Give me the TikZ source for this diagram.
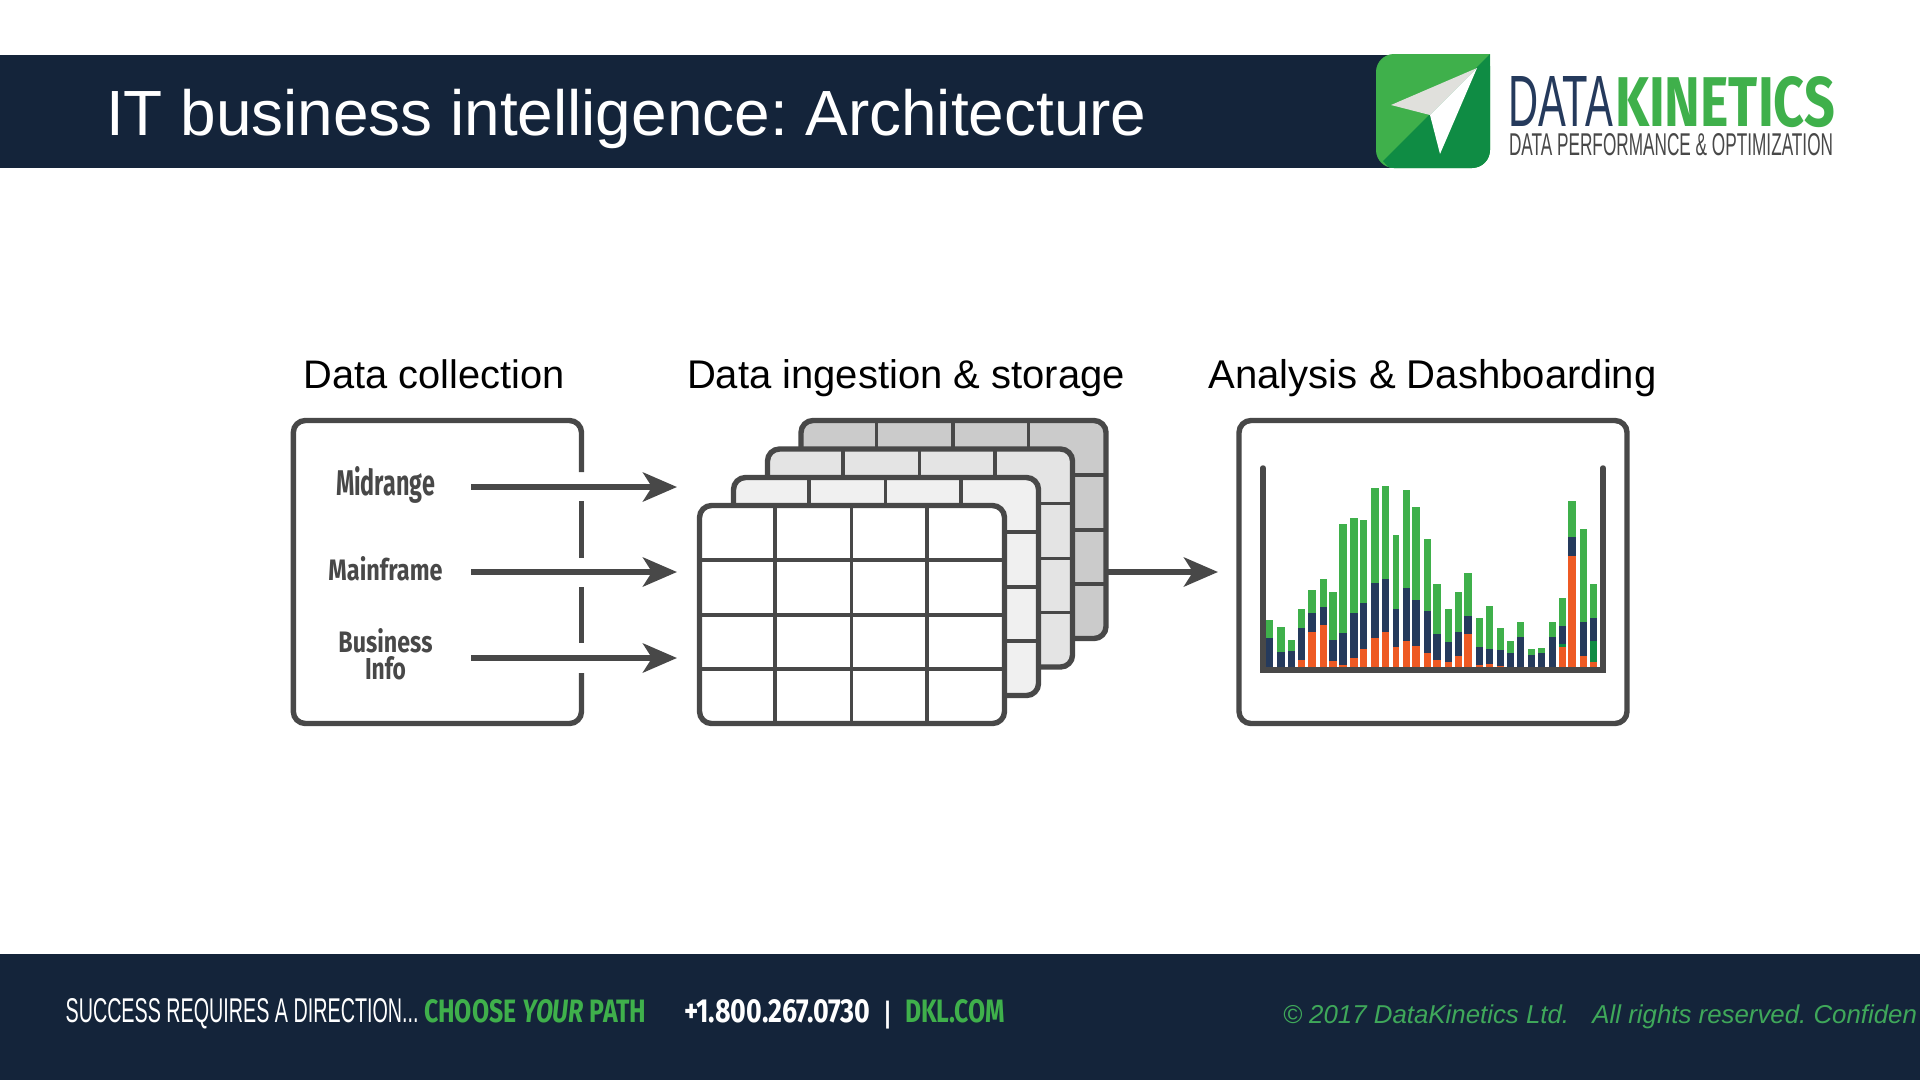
\documentclass[tikz,border=0pt]{standalone}
\usepackage{fontspec}
\usepackage{graphicx}
\usetikzlibrary{arrows.meta}
\setmainfont{Liberation Sans}
\newfontfamily\condbold{Fira Sans}
\definecolor{navy}{HTML}{14243A}
\definecolor{barnavy}{HTML}{253A5C}
\definecolor{kgreen}{HTML}{3FB04B}
\definecolor{dgreen}{HTML}{0F8C44}
\definecolor{korange}{HTML}{EE5A24}
\definecolor{ink}{HTML}{484848}
\definecolor{planegray}{HTML}{E0E0DC}
\definecolor{layerA}{HTML}{CBCBCB}
\definecolor{layerB}{HTML}{E4E4E4}
\definecolor{layerC}{HTML}{F0F0F0}
\definecolor{footgreen}{HTML}{3FA85A}
\newcommand{\fitbox}[3]{\resizebox{#1pt}{#2pt}{#3}}
\tikzset{
  txt/.style={inner sep=0pt,outer sep=0pt},
  frameline/.style={draw=ink,line width=5.4pt,rounded corners=12pt},
  gridline/.style={draw=ink,line width=3.4pt},
  flow/.style={draw=ink,line width=6pt,-{Stealth[length=34pt,width=29pt,inset=9pt]}},
  axisline/.style={draw=ink,line width=5.5pt},
  framenode/.style={frameline,rectangle,inner sep=0pt,minimum width=#1},
}
\newcommand{\tablelayer}[4]{% dx dy fill name
  \begin{scope}[shift={(#1,#2)}]
    \fill[#3,rounded corners=12pt] (699.5,505.5) rectangle (1004.5,723.5);
    \foreach \xv in {775,851.5,927} \draw[gridline] (\xv,505.5) -- (\xv,723.5);
    \foreach \yv in {560,615,669} \draw[gridline] (699.5,\yv) -- (1004.5,\yv);
    \node[framenode=305pt,minimum height=218pt] (#4) at (852,614.5) {};
  \end{scope}}
\newcommand{\stackbar}[5]{% x0 x1 green navy orange (zoom coords)
  \fill[kgreen] ({1240+#1/3},{400+#3/3}) rectangle ({1240+#2/3},{400+#4/3});
  \fill[barnavy] ({1240+#1/3},{400+#4/3}) rectangle ({1240+#2/3},{400+801/3});
  \fill[korange] ({1240+#1/3},{400+#5/3}) rectangle ({1240+#2/3},{400+801/3});}
\begin{document}
\frenchspacing
\begin{tikzpicture}[x=1pt,y=-1pt]
\useasboundingbox (0,0) rectangle (1920,1080);
\fill[white] (0,0) rectangle (1920,1080);
% header
\fill[navy] (0,55) rectangle (1420,168);
\begin{scope}
  \clip (1490,54) [rounded corners=18pt] -- (1376,54) -- (1376,168) -- (1490,168) [sharp corners] -- cycle;
  \fill[kgreen] (1360,40) rectangle (1500,180);
  \fill[dgreen] (1490,54) -- (1500,180) -- (1400,180) -- (1383,161) -- cycle;
\end{scope}
\fill[planegray] (1477,68) -- (1391,105) -- (1430,115) -- cycle;
\fill[white] (1477,68) -- (1430,115) -- (1440,154) -- cycle;
\node[txt,anchor=base west,text=white] (title) at (106,135) {\resizebox{1040pt}{!}{IT business intelligence: Architecture}};
\node[txt,anchor=base west,text=barnavy] (logoA) at (1508,126) {\fitbox{105}{50}{DATA}};
\node[txt,anchor=base west,text=kgreen] (logoB) at (1615,126) {\fitbox{220}{50}{\condbold\bfseries KINETICS}};
\node[txt,anchor=base west,text=ink] (logoC) at (1509,155) {\fitbox{324}{22}{DATA PERFORMANCE \& OPTIMIZATION}};
% headings
\node[txt,anchor=base west] (h1) at (303.7,388) {\resizebox{261pt}{!}{Data collection}};
\node[txt,anchor=base west] (h2) at (687,388) {\resizebox{438pt}{!}{Data ingestion \& storage}};
\node[txt,anchor=base west] (h3) at (1208.6,388) {\resizebox{448pt}{!}{Analysis \& Dashboarding}};
% source box
\draw[frameline] (581.5,472) -- (581.5,420.5) -- (293.3,420.5) -- (293.3,723.5) -- (581.5,723.5) -- (581.5,673);
\draw[draw=ink,line width=5.4pt] (581.5,501) -- (581.5,558) (581.5,587) -- (581.5,643);
\node[txt,text=ink,anchor=base] (src1) at (385.5,495) {\fitbox{99}{29}{\condbold\bfseries Midrange}};
\node[txt,text=ink,anchor=base] (src2) at (385.5,580) {\fitbox{114}{24}{\condbold\bfseries Mainframe}};
\node[txt,text=ink,anchor=base] (src3) at (385.5,652) {\fitbox{94}{24}{\condbold\bfseries Business}};
\node[txt,text=ink,anchor=base] (src4) at (385.5,679) {\fitbox{41}{23}{\condbold\bfseries Info}};
% table stack
\tablelayer{101.5}{-85}{layerA}{t4}
\tablelayer{68}{-56.5}{layerB}{t3}
\tablelayer{34}{-28}{layerC}{t2}
\tablelayer{0}{0}{white}{t1}
% chart
\foreach \a/\b/\g/\n/\o in {78/100/660/713/801,111/134/680/756/801,144/165/719/753/801,174/195/627/684/781,204/228/570/639/696,240/261/537/621/674,267/291/577/720/782,297/321/371/699/795,330/354/355/639/774,360/381/360/609/747,393/417/264/549/713,426/447/258/537/696,459/477/405/627/741,489/510/270/564/723,516/540/321/600/737,552/573/418/634/758,579/602/553/702/781,615/636/627/725/787,645/666/577/696/768,672/696/519/648/702,708/729/654/741/795,738/759/617/747/792,771/792/685/750/798,801/822/723/759/801,831/852/666/711/801,864/885/747/765/801,894/915/744/759/801,927/948/666/711/801,957/978/593/678/741,984/1008/302/412/468,1020/1041/387/666/768,1050/1071/553/654/787}
  {\stackbar{\a}{\b}{\g}{\n}{\o}}
\fill[dgreen] ({1240+957/3},{400+732/3}) rectangle ({1240+978/3},{400+741/3});
\fill[dgreen] ({1240+1050/3},{400+723/3}) rectangle ({1240+1071/3},{400+787/3});
\node[framenode=388pt,minimum height=303pt] (chart) at (1433,572) {};
\draw[axisline,line cap=round] (1263,468) -- (1263,667);
\draw[axisline,line cap=round] (1603,468) -- (1603,667);
\draw[draw=ink,line width=6pt] (1260.3,669.5) -- (1605.7,669.5);
% connectors
\coordinate (a1s) at (471,487); \coordinate (a1e) at (677,487);
\coordinate (a2s) at (471,572); \coordinate (a2e) at (677,572);
\coordinate (a3s) at (471,658); \coordinate (a3e) at (677,658);
\coordinate (a4s) at (1106,572); \coordinate (a4e) at (1218,572);
\draw[flow] (a1s) -- (a1e);
\draw[flow] (a2s) -- (a2e);
\draw[flow] (a3s) -- (a3e);
\draw[flow] (a4s) -- (a4e);
% footer
\fill[navy] (0,954) rectangle (1920,1080);
\node[txt,anchor=base west,text=white] (f1) at (65.6,1022) {\fitbox{353}{24}{SUCCESS REQUIRES A DIRECTION...}};
\node[txt,anchor=base west,text=kgreen] (f2) at (424,1022) {\fitbox{222.5}{23}{\condbold\bfseries CHOOSE \itshape YOUR \upshape PATH}};
\node[txt,anchor=base west,text=white] (f3) at (684,1022) {\fitbox{186.5}{23}{\condbold\bfseries +1.800.267.0730}};
\node[txt,anchor=base,text=white] (f4) at (887.5,1022) {\resizebox*{6pt}{28pt}{\bfseries |}};
\node[txt,anchor=base west,text=kgreen] (f5) at (905,1022) {\fitbox{100}{23}{\condbold\bfseries DKL.COM}};
\node[txt,anchor=base west,text=footgreen] (f6) at (1283,1023.5) {\resizebox{634pt}{!}{\itshape © 2017 DataKinetics Ltd.\hspace{0.9em}All rights reserved. Confiden}};
\end{tikzpicture}
\end{document}
